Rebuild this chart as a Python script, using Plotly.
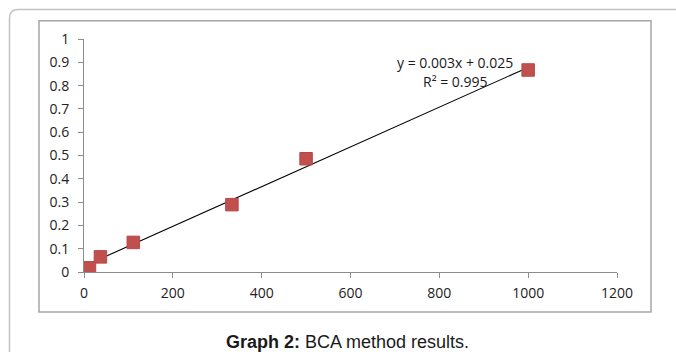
import numpy as np
import plotly.graph_objects as go

# Data
concentration = [12.3, 37, 111, 333, 500, 1000]
absorbance = [0.018, 0.065, 0.127, 0.289, 0.486, 0.867]
x_ticks = [0, 200, 400, 600, 800, 1000, 1200]
y_ticks = [0, 0.1, 0.2, 0.3, 0.4, 0.5, 0.6, 0.7, 0.8, 0.9, 1]
y_tick_labels = ["0", "0.1", "0.2", "0.3", "0.4", "0.5", "0.6", "0.7", "0.8", "0.9", "1"]
equation_text = "y = 0.003x + 0.025"
r2_text = "R² = 0.995"
caption_bold = "Graph 2:"
caption_rest = " BCA method results."

W, H = 676, 352
ML, MR, MT, MB = 84, 59, 39, 80
PW, PH = W - ML - MR, H - MT - MB


def px(xp):
    return (xp - ML) / PW


def py(yp):
    return (H - MB - yp) / PH


# linear trendline from the data
slope, intercept = np.polyfit(concentration, absorbance, 1)
trend_x = [min(concentration), max(concentration)]
trend_y = [slope * v + intercept for v in trend_x]

fig = go.Figure()
fig.add_trace(go.Scatter(
    x=trend_x, y=trend_y, mode="lines",
    line=dict(color="black", width=1.1), hoverinfo="skip", showlegend=False,
))
fig.add_trace(go.Scatter(
    x=concentration, y=absorbance, mode="markers",
    marker=dict(symbol="square", size=12.5, color="#c0504d",
                line=dict(color="#b9474a", width=1)),
    showlegend=False,
))

axis_font = dict(family="Open Sans", size=14, color="#222222")
fig.update_xaxes(
    range=[0, 1200], tickvals=x_ticks, showgrid=False, zeroline=False,
    showline=True, linecolor="#8c8c8c", linewidth=1,
    ticks="outside", ticklen=5, tickcolor="#8c8c8c",
    tickfont=axis_font, ticklabelstandoff=3,
)
fig.update_yaxes(
    range=[0, 1], tickvals=y_ticks, ticktext=y_tick_labels,
    showgrid=False, zeroline=False,
    showline=True, linecolor="#8c8c8c", linewidth=1,
    ticks="outside", ticklen=5, tickcolor="#8c8c8c",
    tickfont=axis_font, ticklabelstandoff=6,
)

shapes = [
    # outer rounded frame
    dict(type="path", xref="paper", yref="paper",
         path=(f"M {px(9.5)},{py(360)} L {px(9.5)},{py(18)} "
               f"Q {px(9.5)},{py(9.5)} {px(18)},{py(9.5)} L {px(690)},{py(9.5)}"),
         line=dict(color="#c4c4c4", width=1.5)),
    # inner chart frame
    dict(type="rect", xref="paper", yref="paper",
         x0=px(39), x1=px(651), y0=py(312), y1=py(20.7),
         line=dict(color="#a6a6a6", width=1.5)),
]

annotations = [
    dict(xref="paper", yref="paper", x=px(455), y=py(62), text=equation_text,
         showarrow=False, xanchor="center", yanchor="middle",
         font=dict(family="Open Sans", size=14, color="#1a1a1a")),
    dict(xref="paper", yref="paper", x=px(455), y=py(81), text=r2_text,
         showarrow=False, xanchor="center", yanchor="middle",
         font=dict(family="Open Sans", size=14, color="#1a1a1a")),
    dict(xref="paper", yref="paper", x=px(347), y=py(342),
         text=f"<b>{caption_bold}</b>{caption_rest}",
         showarrow=False, xanchor="center", yanchor="middle",
         font=dict(family="Liberation Sans", size=18, color="#1a1a1a")),
]

fig.update_layout(
    width=W, height=H,
    margin=dict(l=ML, r=MR, t=MT, b=MB),
    paper_bgcolor="white", plot_bgcolor="white",
    shapes=shapes, annotations=annotations,
)

fig.write_html(
    "out.html",
    config={"displayModeBar": False},
    post_script="document.body.style.margin='0';document.body.style.overflow='hidden';",
)
